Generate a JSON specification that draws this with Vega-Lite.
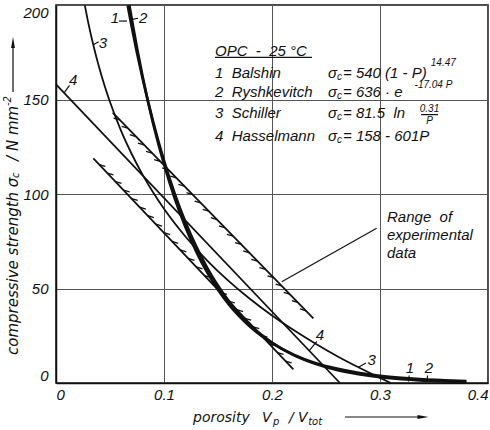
{
  "$schema": "https://vega.github.io/schema/vega-lite/v6.json",
  "width": 432,
  "height": 378,
  "autosize": {"type": "none"},
  "padding": {"left": 56, "top": 5, "right": 2, "bottom": 47},
  "background": "white",
  "config": {
    "view": {"stroke": "#111", "strokeWidth": 1.5},
    "axis": {
      "title": null,
      "grid": true,
      "gridColor": "#555",
      "gridWidth": 1,
      "ticks": false,
      "domainColor": "#111",
      "domainWidth": 1.5,
      "labelFlush": true,
      "labelFont": "Liberation Sans",
      "labelFontStyle": "italic",
      "labelFontSize": 15,
      "labelColor": "#111"
    }
  },
  "datasets": {
    "curves": [
      {"id": "1", "P": 0.0664, "s": 199.8}, {"id": "1", "P": 0.07, "s": 188.9}, {"id": "1", "P": 0.08, "s": 161.6}, {"id": "1", "P": 0.09, "s": 138.0}, {"id": "1", "P": 0.10, "s": 117.6}, {"id": "1", "P": 0.11, "s": 100.0}, {"id": "1", "P": 0.12, "s": 84.9}, {"id": "1", "P": 0.13, "s": 72.0}, {"id": "1", "P": 0.14, "s": 60.9}, {"id": "1", "P": 0.15, "s": 51.4}, {"id": "1", "P": 0.16, "s": 43.3}, {"id": "1", "P": 0.17, "s": 36.4}, {"id": "1", "P": 0.18, "s": 30.6}, {"id": "1", "P": 0.19, "s": 25.6}, {"id": "1", "P": 0.20, "s": 21.4}, {"id": "1", "P": 0.22, "s": 14.8}, {"id": "1", "P": 0.24, "s": 10.2}, {"id": "1", "P": 0.26, "s": 6.9}, {"id": "1", "P": 0.28, "s": 4.7}, {"id": "1", "P": 0.30, "s": 3.1}, {"id": "1", "P": 0.32, "s": 2.0}, {"id": "1", "P": 0.34, "s": 1.3}, {"id": "1", "P": 0.36, "s": 0.8}, {"id": "1", "P": 0.38, "s": 0.5},
      {"id": "2", "P": 0.0679, "s": 200.0}, {"id": "2", "P": 0.07, "s": 193.0}, {"id": "2", "P": 0.08, "s": 162.7}, {"id": "2", "P": 0.09, "s": 137.2}, {"id": "2", "P": 0.10, "s": 115.8}, {"id": "2", "P": 0.11, "s": 97.6}, {"id": "2", "P": 0.12, "s": 82.3}, {"id": "2", "P": 0.13, "s": 69.4}, {"id": "2", "P": 0.14, "s": 58.5}, {"id": "2", "P": 0.15, "s": 49.4}, {"id": "2", "P": 0.16, "s": 41.6}, {"id": "2", "P": 0.17, "s": 35.1}, {"id": "2", "P": 0.18, "s": 29.6}, {"id": "2", "P": 0.19, "s": 25.0}, {"id": "2", "P": 0.20, "s": 21.1}, {"id": "2", "P": 0.22, "s": 15.0}, {"id": "2", "P": 0.24, "s": 10.6}, {"id": "2", "P": 0.26, "s": 7.6}, {"id": "2", "P": 0.28, "s": 5.4}, {"id": "2", "P": 0.30, "s": 3.8}, {"id": "2", "P": 0.32, "s": 2.7}, {"id": "2", "P": 0.34, "s": 1.9}, {"id": "2", "P": 0.36, "s": 1.4}, {"id": "2", "P": 0.38, "s": 1.0},
      {"id": "3", "P": 0.0267, "s": 199.8}, {"id": "3", "P": 0.03, "s": 190.3}, {"id": "3", "P": 0.035, "s": 177.8}, {"id": "3", "P": 0.04, "s": 166.9}, {"id": "3", "P": 0.045, "s": 157.3}, {"id": "3", "P": 0.05, "s": 148.7}, {"id": "3", "P": 0.06, "s": 133.8}, {"id": "3", "P": 0.07, "s": 121.3}, {"id": "3", "P": 0.08, "s": 110.4}, {"id": "3", "P": 0.09, "s": 100.8}, {"id": "3", "P": 0.10, "s": 92.2}, {"id": "3", "P": 0.12, "s": 77.4}, {"id": "3", "P": 0.14, "s": 64.8}, {"id": "3", "P": 0.16, "s": 53.9}, {"id": "3", "P": 0.18, "s": 44.3}, {"id": "3", "P": 0.20, "s": 35.7}, {"id": "3", "P": 0.22, "s": 28.0}, {"id": "3", "P": 0.24, "s": 20.9}, {"id": "3", "P": 0.26, "s": 14.3}, {"id": "3", "P": 0.28, "s": 8.3}, {"id": "3", "P": 0.30, "s": 2.7}, {"id": "3", "P": 0.31, "s": 0.0},
      {"id": "4", "P": 0.0, "s": 158.0}, {"id": "4", "P": 0.2629, "s": 0.0}
    ],
    "band": [
      {"side": "u", "P": 0.0525, "s": 143.0}, {"side": "u", "P": 0.2383, "s": 34.2},
      {"side": "l", "P": 0.0346, "s": 118.9}, {"side": "l", "P": 0.2198, "s": 7.2}
    ],
    "hatches": [
      {"side": "u", "P": 0.059, "s": 139.2}, {"side": "u", "P": 0.0665, "s": 134.8}, {"side": "u", "P": 0.074, "s": 130.4}, {"side": "u", "P": 0.0815, "s": 126.0}, {"side": "u", "P": 0.089, "s": 121.6}, {"side": "u", "P": 0.0965, "s": 117.2}, {"side": "u", "P": 0.104, "s": 112.8}, {"side": "u", "P": 0.1115, "s": 108.5}, {"side": "u", "P": 0.119, "s": 104.1}, {"side": "u", "P": 0.1265, "s": 99.7}, {"side": "u", "P": 0.134, "s": 95.3}, {"side": "u", "P": 0.1415, "s": 90.9}, {"side": "u", "P": 0.149, "s": 86.5}, {"side": "u", "P": 0.1565, "s": 82.1}, {"side": "u", "P": 0.164, "s": 77.7}, {"side": "u", "P": 0.1715, "s": 73.3}, {"side": "u", "P": 0.179, "s": 68.9}, {"side": "u", "P": 0.1865, "s": 64.5}, {"side": "u", "P": 0.194, "s": 60.1}, {"side": "u", "P": 0.2015, "s": 55.7}, {"side": "u", "P": 0.209, "s": 51.4}, {"side": "u", "P": 0.2165, "s": 47.0}, {"side": "u", "P": 0.224, "s": 42.6}, {"side": "u", "P": 0.2315, "s": 38.2},
      {"side": "l", "P": 0.040, "s": 115.6}, {"side": "l", "P": 0.0475, "s": 111.1}, {"side": "l", "P": 0.055, "s": 106.6}, {"side": "l", "P": 0.0625, "s": 102.1}, {"side": "l", "P": 0.070, "s": 97.6}, {"side": "l", "P": 0.0775, "s": 93.0}, {"side": "l", "P": 0.085, "s": 88.5}, {"side": "l", "P": 0.0925, "s": 84.0}, {"side": "l", "P": 0.100, "s": 79.5}, {"side": "l", "P": 0.1075, "s": 74.9}, {"side": "l", "P": 0.115, "s": 70.4}, {"side": "l", "P": 0.1225, "s": 65.9}, {"side": "l", "P": 0.130, "s": 61.4}, {"side": "l", "P": 0.1375, "s": 56.8}, {"side": "l", "P": 0.145, "s": 52.3}, {"side": "l", "P": 0.1525, "s": 47.8}, {"side": "l", "P": 0.160, "s": 43.3}, {"side": "l", "P": 0.1675, "s": 38.8}, {"side": "l", "P": 0.175, "s": 34.2}, {"side": "l", "P": 0.1825, "s": 29.7}, {"side": "l", "P": 0.190, "s": 25.2}, {"side": "l", "P": 0.1975, "s": 20.7}, {"side": "l", "P": 0.205, "s": 16.1}, {"side": "l", "P": 0.2125, "s": 11.6}
    ],
    "leaders": [
      {"P": 0.2969, "s": 81.9, "P2": 0.2090, "s2": 53.6},
      {"P": 0.0583, "s": 191.5, "P2": 0.0657, "s2": 191.5},
      {"P": 0.0694, "s": 192.3, "P2": 0.0759, "s2": 193.0},
      {"P": 0.0345, "s": 179.0, "P2": 0.0395, "s2": 180.6},
      {"P": 0.0075, "s": 153.5, "P2": 0.0125, "s2": 157.5},
      {"P": 0.2345, "s": 17.1, "P2": 0.2415, "s2": 22.0},
      {"P": 0.2800, "s": 8.3, "P2": 0.2870, "s2": 10.6},
      {"P": 0.3270, "s": 4.0, "P2": 0.3265, "s2": 0.8},
      {"P": 0.3440, "s": 4.0, "P2": 0.3435, "s2": 0.8},
      {"P": 0.1472, "s": 172.3, "P2": 0.2370, "s2": 172.3},
      {"P": 0.3380, "s": 142.0, "P2": 0.3537, "s2": 142.0},
      {"P": -0.0398, "s": 154.0, "P2": -0.0398, "s2": 179.0},
      {"P": 0.2676, "s": -18.0, "P2": 0.3380, "s2": -18.0}
    ],
    "heads": [
      {"dir": "up", "P": -0.0398, "s": 180.2},
      {"dir": "right", "P": 0.3398, "s": -18.0}
    ],
    "txt": [
      {"kind": "f", "P": 0.1472, "s": 175.8, "t": "OPC\u00a0\u00a0-\u00a0\u00a025\u00a0°C"},
      {"kind": "f", "P": 0.1472, "s": 164.2, "t": "1\u00a0\u00a0Balshin"},
      {"kind": "f", "P": 0.1472, "s": 153.8, "t": "2\u00a0\u00a0Ryshkevitch"},
      {"kind": "f", "P": 0.1472, "s": 142.7, "t": "3\u00a0\u00a0Schiller"},
      {"kind": "f", "P": 0.1472, "s": 130.7, "t": "4\u00a0\u00a0Hasselmann"},
      {"kind": "f", "P": 0.2519, "s": 164.2, "t": "σ"},
      {"kind": "f", "P": 0.2519, "s": 153.8, "t": "σ"},
      {"kind": "f", "P": 0.2519, "s": 142.7, "t": "σ"},
      {"kind": "f", "P": 0.2519, "s": 130.7, "t": "σ"},
      {"kind": "s", "P": 0.2602, "s": 162.1, "t": "c"},
      {"kind": "s", "P": 0.2602, "s": 151.7, "t": "c"},
      {"kind": "s", "P": 0.2602, "s": 140.6, "t": "c"},
      {"kind": "s", "P": 0.2602, "s": 128.6, "t": "c"},
      {"kind": "f", "P": 0.2657, "s": 164.2, "t": "= 540 (1 - P)"},
      {"kind": "s", "P": 0.3470, "s": 169.3, "t": "14.47"},
      {"kind": "f", "P": 0.2657, "s": 153.8, "t": "= 636 · e"},
      {"kind": "s", "P": 0.3320, "s": 157.7, "t": "-17.04 P"},
      {"kind": "f", "P": 0.2657, "s": 142.7, "t": "= 81.5\u00a0\u00a0ln"},
      {"kind": "fr", "P": 0.3458, "s": 145.0, "t": "0.31"},
      {"kind": "fr", "P": 0.3458, "s": 138.6, "t": "P"},
      {"kind": "f", "P": 0.2657, "s": 130.7, "t": "= 158 - 601P"},
      {"kind": "f", "P": 0.3065, "s": 87.8, "t": "Range\u00a0 of"},
      {"kind": "f", "P": 0.3065, "s": 78.3, "t": "experimental"},
      {"kind": "f", "P": 0.3065, "s": 68.8, "t": "data"},
      {"kind": "n", "P": 0.0546, "s": 193.1, "t": "1"},
      {"kind": "n", "P": 0.0806, "s": 193.1, "t": "2"},
      {"kind": "n", "P": 0.0435, "s": 179.9, "t": "3"},
      {"kind": "n", "P": 0.0160, "s": 160.3, "t": "4"},
      {"kind": "n", "P": 0.2444, "s": 25.4, "t": "4"},
      {"kind": "n", "P": 0.2923, "s": 12.2, "t": "3"},
      {"kind": "n", "P": 0.3278, "s": 7.9, "t": "1"},
      {"kind": "n", "P": 0.3454, "s": 7.9, "t": "2"},
      {"kind": "yt", "P": -0.0398, "s": 14.8, "t": "compressive strength σ"},
      {"kind": "ys", "P": -0.0366, "s": 108.5, "t": "c"},
      {"kind": "yt", "P": -0.0398, "s": 117.5, "t": "/ N mm"},
      {"kind": "ys", "P": -0.0440, "s": 146.5, "t": "-2"},
      {"kind": "xt", "P": 0.1269, "s": -18.5, "t": "porosity"},
      {"kind": "xt", "P": 0.1907, "s": -18.5, "t": "V"},
      {"kind": "xs", "P": 0.2009, "s": -20.8, "t": "p"},
      {"kind": "xt", "P": 0.2157, "s": -18.5, "t": "/"},
      {"kind": "xt", "P": 0.2241, "s": -18.5, "t": "V"},
      {"kind": "xs", "P": 0.2335, "s": -20.8, "t": "tot"}
    ]
  },
  "encoding": {
    "x": {
      "field": "P", "type": "quantitative",
      "scale": {"domain": [0, 0.4], "nice": false, "zero": false},
      "axis": {
        "values": [0, 0.1, 0.2, 0.3, 0.4],
        "labelExpr": "datum.value == 0 ? '0' : format(datum.value, '.1f')",
        "labelPadding": 4
      }
    },
    "y": {
      "field": "s", "type": "quantitative",
      "scale": {"domain": [0, 200], "nice": false, "zero": false},
      "axis": {"values": [0, 50, 100, 150, 200], "labelPadding": 8}
    }
  },
  "layer": [
    {
      "data": {"name": "curves"},
      "transform": [{"filter": "datum.id == '1' || datum.id == '2'"}],
      "mark": {"type": "line", "color": "#111", "strokeWidth": 2.7, "interpolate": "monotone"},
      "encoding": {"detail": {"field": "id"}}
    },
    {
      "data": {"name": "curves"},
      "transform": [{"filter": "datum.id == '3' || datum.id == '4'"}],
      "mark": {"type": "line", "color": "#111", "strokeWidth": 1.8, "interpolate": "monotone"},
      "encoding": {"detail": {"field": "id"}}
    },
    {
      "data": {"name": "band"},
      "mark": {"type": "line", "color": "#111", "strokeWidth": 1.8},
      "encoding": {"detail": {"field": "side"}}
    },
    {
      "data": {"name": "hatches"},
      "mark": {"type": "point", "filled": false, "stroke": "#111", "strokeWidth": 1.3, "size": 150, "opacity": 1},
      "encoding": {
        "shape": {"field": "side", "type": "nominal", "scale": {"domain": ["u", "l", "up", "right"], "range": ["M0,0L-1,-0.3", "M0,0L1,0.3", "M-0.35,1L0,-1L0.35,1Z", "M-1,-0.35L1,0L-1,0.35Z"]}, "legend": null}
      }
    },
    {
      "data": {"name": "leaders"},
      "mark": {"type": "rule", "color": "#111", "strokeWidth": 1.2},
      "encoding": {"x2": {"field": "P2"}, "y2": {"field": "s2"}}
    },
    {
      "data": {"name": "heads"},
      "mark": {"type": "point", "filled": true, "fill": "#111", "strokeWidth": 0, "size": 121, "opacity": 1},
      "encoding": {
        "shape": {"field": "dir", "type": "nominal", "scale": {"domain": ["u", "l", "up", "right"], "range": ["M0,0L-1,-0.3", "M0,0L1,0.3", "M-0.35,1L0,-1L0.35,1Z", "M-1,-0.35L1,0L-1,0.35Z"]}, "legend": null}
      }
    },
    {
      "data": {"name": "txt"},
      "transform": [{"filter": "datum.kind == 'f'"}],
      "mark": {"type": "text", "font": "Liberation Sans", "fontStyle": "italic", "fontSize": 15, "align": "left", "baseline": "middle", "color": "#111"},
      "encoding": {"text": {"field": "t"}}
    },
    {
      "data": {"name": "txt"},
      "transform": [{"filter": "datum.kind == 's'"}],
      "mark": {"type": "text", "font": "Liberation Sans", "fontStyle": "italic", "fontSize": 10, "align": "left", "baseline": "middle", "color": "#111"},
      "encoding": {"text": {"field": "t"}}
    },
    {
      "data": {"name": "txt"},
      "transform": [{"filter": "datum.kind == 'fr'"}],
      "mark": {"type": "text", "font": "Liberation Sans", "fontStyle": "italic", "fontSize": 10, "align": "center", "baseline": "middle", "color": "#111"},
      "encoding": {"text": {"field": "t"}}
    },
    {
      "data": {"name": "txt"},
      "transform": [{"filter": "datum.kind == 'n'"}],
      "mark": {"type": "text", "font": "Liberation Sans", "fontStyle": "italic", "fontSize": 15, "align": "center", "baseline": "middle", "color": "#111"},
      "encoding": {"text": {"field": "t"}}
    },
    {
      "data": {"name": "txt"},
      "transform": [{"filter": "datum.kind == 'yt'"}],
      "mark": {"type": "text", "font": "DejaVu Sans", "fontStyle": "italic", "fontSize": 15, "align": "left", "baseline": "middle", "angle": 270, "color": "#111"},
      "encoding": {"text": {"field": "t"}}
    },
    {
      "data": {"name": "txt"},
      "transform": [{"filter": "datum.kind == 'ys'"}],
      "mark": {"type": "text", "font": "DejaVu Sans", "fontStyle": "italic", "fontSize": 10, "align": "left", "baseline": "middle", "angle": 270, "color": "#111"},
      "encoding": {"text": {"field": "t"}}
    },
    {
      "data": {"name": "txt"},
      "transform": [{"filter": "datum.kind == 'xt'"}],
      "mark": {"type": "text", "font": "DejaVu Sans", "fontStyle": "italic", "fontSize": 14, "align": "left", "baseline": "middle", "color": "#111"},
      "encoding": {"text": {"field": "t"}}
    },
    {
      "data": {"name": "txt"},
      "transform": [{"filter": "datum.kind == 'xs'"}],
      "mark": {"type": "text", "font": "DejaVu Sans", "fontStyle": "italic", "fontSize": 10, "align": "left", "baseline": "middle", "color": "#111"},
      "encoding": {"text": {"field": "t"}}
    }
  ]
}
